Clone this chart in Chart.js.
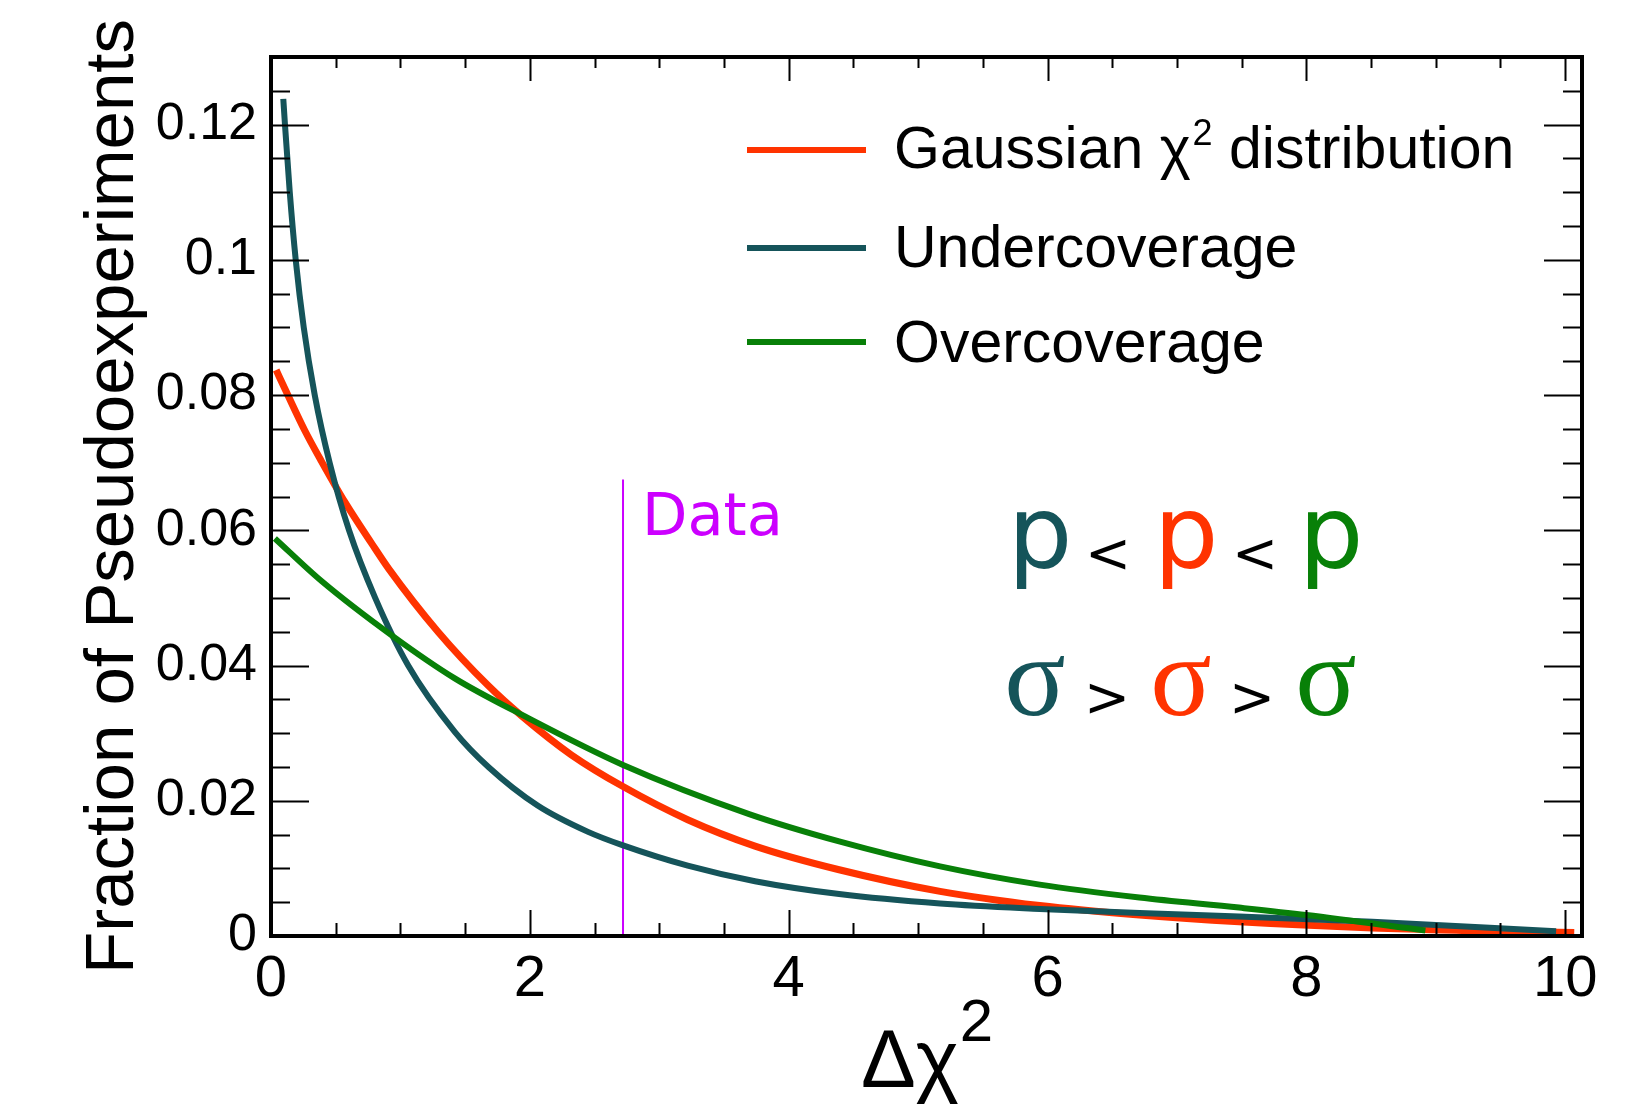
<!DOCTYPE html>
<html>
<head>
<meta charset="utf-8">
<script src="https://cdn.jsdelivr.net/npm/chart.js@4/dist/chart.umd.min.js"></script>
<style>
  html, body { margin: 0; padding: 0; background: #fff; }
  #wrap { width: 1637px; height: 1115px; }
</style>
</head>
<body>
<div id="wrap"><canvas id="chart" width="1637" height="1115"></canvas></div>
<script>
// values
const gaussianX = [0.04, 0.13, 0.26, 0.39, 0.57, 0.78, 0.91, 1.29, 1.68, 1.94, 2.32, 2.72, 3.22, 3.74, 4.39, 5.17, 5.94, 6.71, 7.48, 8.51, 9.3, 10.07];
const gaussianY = [0.0837, 0.0800, 0.0748, 0.0702, 0.0642, 0.0580, 0.0543, 0.0450, 0.0370, 0.0325, 0.0268, 0.0221, 0.0172, 0.0133, 0.0098, 0.0066, 0.0045, 0.0031, 0.0021, 0.0012, 0.0008, 0.0005];

const underX = [0.095, 0.108, 0.145, 0.191, 0.253, 0.338, 0.453, 0.603, 0.805, 1.06, 1.42, 1.68, 2.06, 2.45, 2.72, 3.22, 3.74, 4.39, 5.17, 5.94, 6.71, 7.48, 8.51, 9.93];
const underY = [0.1238, 0.120, 0.110, 0.100, 0.090, 0.080, 0.070, 0.060, 0.050, 0.040, 0.0302, 0.0250, 0.0193, 0.0154, 0.0134, 0.0104, 0.0081, 0.0062, 0.0048, 0.0040, 0.0034, 0.0029, 0.0021, 0.0007];

const overX = [0.03, 0.39, 0.93, 1.42, 1.94, 2.72, 3.7, 4.39, 5.17, 5.94, 6.71, 7.48, 8.0, 8.92];
const overY = [0.0588, 0.0525, 0.0445, 0.0381, 0.0327, 0.0253, 0.0180, 0.0140, 0.0103, 0.0076, 0.0057, 0.0042, 0.0031, 0.0008];

const dataX = 2.72;
const dataTop = 0.0675;

const xTickValues = [0, 2, 4, 6, 8, 10];
const xTickLabels = ['0', '2', '4', '6', '8', '10'];
const yTickValues = [0, 0.02, 0.04, 0.06, 0.08, 0.1, 0.12];
const yTickLabels = ['0', '0.02', '0.04', '0.06', '0.08', '0.1', '0.12'];

const seriesNames = ['Gaussian χ² distribution', 'Undercoverage', 'Overcoverage'];

const RED = '#ff3300';
const TEAL = '#15545a';
const GREEN = '#088008';
const MAGENTA = '#cc00ff';

const toPoints = (xs, ys) => xs.map((v, i) => ({ x: v, y: ys[i] }));

// inward ticks, frame box, legend and the text annotations
const framePlugin = {
    id: 'frame',
    afterDatasetsDraw(chart) {
        const { ctx, chartArea: a, scales: { x, y } } = chart;
        ctx.save();
        ctx.strokeStyle = '#000';
        ctx.lineWidth = 2;
        ctx.beginPath();
        for (let v = 0.5; v <= 10.01; v += 0.5) {
            const px = Math.round(x.getPixelForValue(v)) + 0.5;
            const major = Math.abs(v / 2 - Math.round(v / 2)) < 1e-6;
            ctx.moveTo(px, a.bottom); ctx.lineTo(px, a.bottom - (major ? 26 : 13));
            ctx.moveTo(px, a.top); ctx.lineTo(px, a.top + (major ? 24 : 11));
        }
        for (let v = 0.005; v <= 0.1251; v += 0.005) {
            const py = Math.round(y.getPixelForValue(v)) + 0.5;
            const major = Math.abs(v / 0.02 - Math.round(v / 0.02)) < 1e-6;
            const len = major ? 38 : 19;
            ctx.moveTo(a.left, py); ctx.lineTo(a.left + len, py);
            ctx.moveTo(a.right, py); ctx.lineTo(a.right - len, py);
        }
        ctx.stroke();
        ctx.lineWidth = 4;
        ctx.strokeRect(a.left, a.top, a.right - a.left, a.bottom - a.top);

        // legend
        const colors = chart.data.datasets.map(d => d.borderColor);
        const lineY = [150, 248, 342];
        const baseY = [168, 267, 362];
        ctx.lineWidth = 6;
        ctx.fillStyle = '#000';
        ctx.textBaseline = 'alphabetic';
        ctx.textAlign = 'left';
        for (let i = 0; i < 3; i++) {
            ctx.strokeStyle = colors[i];
            ctx.beginPath(); ctx.moveTo(747, lineY[i]); ctx.lineTo(866, lineY[i]); ctx.stroke();
            ctx.font = '59px "Liberation Sans"';
            if (i === 0) {
                const head = 'Gaussian χ';
                ctx.fillText(head, 894, baseY[i]);
                let cx = 894 + ctx.measureText(head).width + 2;
                ctx.font = '36px "Liberation Sans"';
                ctx.fillText('2', cx, 145);
                cx += ctx.measureText('2').width;
                ctx.font = '59px "Liberation Sans"';
                ctx.fillText(' distribution', cx, baseY[i]);
            } else {
                ctx.fillText(chart.data.datasets[i].label, 894, baseY[i]);
            }
        }

        // Data label
        ctx.fillStyle = MAGENTA;
        ctx.font = '59px "DejaVu Sans"';
        ctx.fillText('Data', 642, 535);

        // p < p < p and sigma > sigma > sigma
        ctx.textAlign = 'center';
        const row = (glyph, font, sep, base, sepBase, xs) => {
            const cols = [TEAL, '#000', RED, '#000', GREEN];
            xs.forEach((cx, i) => {
                ctx.fillStyle = cols[i];
                if (i % 2 === 0) { ctx.font = font; ctx.fillText(glyph, cx, base); }
                else { ctx.font = '55px "DejaVu Sans"'; ctx.fillText(sep, cx, sepBase); }
            });
        };
        row('p', '102px "DejaVu Sans"', '<', 568, 572, [1040, 1108, 1186, 1255, 1331]);
        row('σ', '114px "Liberation Serif"', '>', 715, 716, [1035, 1107, 1181, 1252, 1326]);

        // axis titles
        ctx.fillStyle = '#000';
        ctx.save();
        ctx.translate(133, (a.top + a.bottom) / 2);
        ctx.rotate(-Math.PI / 2);
        ctx.font = '69px "Liberation Sans"';
        ctx.textAlign = 'center';
        ctx.fillText('Fraction of Pseudoexperiments', 0, 0);
        ctx.restore();

        ctx.textAlign = 'left';
        ctx.font = '82px "Liberation Sans"';
        const w1 = ctx.measureText('Δχ').width;
        ctx.font = '60px "Liberation Sans"';
        const w2 = ctx.measureText('2').width;
        const sx = (a.left + a.right) / 2 - (w1 + w2) / 2;
        ctx.font = '82px "Liberation Sans"';
        ctx.fillText('Δχ', sx, 1087);
        ctx.font = '60px "Liberation Sans"';
        ctx.fillText('2', sx + w1 + 1, 1041);
        ctx.restore();
    }
};

new Chart(document.getElementById('chart').getContext('2d'), {
    type: 'line',
    data: {
        datasets: [
            { label: seriesNames[0], data: toPoints(gaussianX, gaussianY), borderColor: RED, borderWidth: 7, order: 2 },
            { label: seriesNames[1], data: toPoints(underX, underY), borderColor: TEAL, borderWidth: 6, order: 1 },
            { label: seriesNames[2], data: toPoints(overX, overY), borderColor: GREEN, borderWidth: 6, order: 0 },
            { label: 'Data', data: [{ x: dataX, y: 0 }, { x: dataX, y: dataTop }], borderColor: MAGENTA, borderWidth: 2, order: 3, cubicInterpolationMode: 'default', tension: 0 }
        ]
    },
    options: {
        responsive: false,
        animation: false,
        layout: { padding: { top: 57, right: 55, left: 0, bottom: 0 } },
        elements: {
            point: { radius: 0 },
            line: { cubicInterpolationMode: 'monotone', fill: false, borderCapStyle: 'butt', borderJoinStyle: 'round' }
        },
        plugins: { legend: { display: false }, tooltip: { enabled: false } },
        scales: {
            x: {
                type: 'linear', min: 0, max: 10.13,
                grid: { display: false }, border: { display: false },
                afterBuildTicks: s => { s.ticks = xTickValues.map(v => ({ value: v })); },
                afterFit: s => { s.height = 179; },
                ticks: {
                    padding: 1, color: '#000', maxRotation: 0, autoSkip: false,
                    font: { family: 'Liberation Sans', size: 58 },
                    callback: (v, i) => xTickLabels[i]
                }
            },
            y: {
                type: 'linear', min: 0, max: 0.13,
                grid: { display: false }, border: { display: false },
                afterBuildTicks: s => { s.ticks = yTickValues.map(v => ({ value: v })); },
                afterFit: s => { s.width = 271; },
                ticks: {
                    padding: 6, color: '#000', autoSkip: false,
                    font: { family: 'Liberation Sans', size: 52 },
                    callback: (v, i) => yTickLabels[i]
                }
            }
        }
    },
    plugins: [framePlugin]
});
</script>
</body>
</html>
